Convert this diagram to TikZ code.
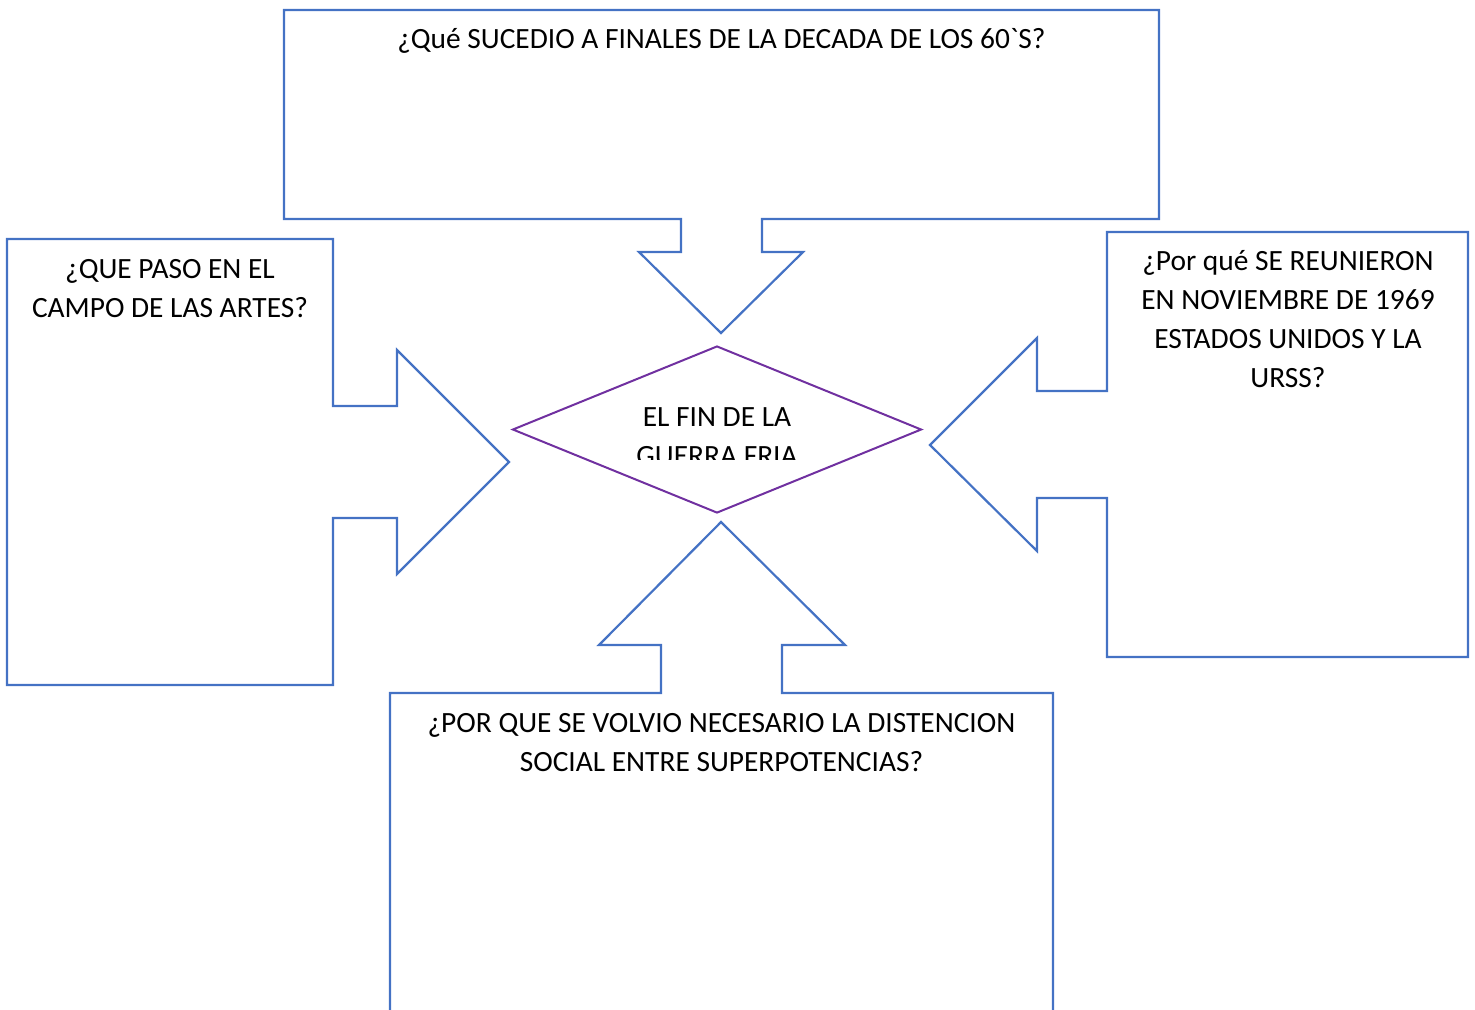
\documentclass[tikz,border=0pt]{standalone}
\usepackage{fontspec}
\setmainfont{Carlito}[Ligatures=TeXOff]
\usetikzlibrary{calc, shapes.geometric}
\definecolor{callblue}{HTML}{4472C4}
\definecolor{finpurple}{HTML}{7030A0}
\tikzset{
  callout/.style={draw=callblue, line width=1.1pt, line join=miter},
  question/.style={align=center, anchor=base, inner sep=0pt,
    font=\fontsize{14.7pt}{19.5pt}\selectfont},
}
\begin{document}
\begin{tikzpicture}[x=0.5pt, y=-0.5pt]
      \useasboundingbox (0,0) rectangle (1475,1009);

      \coordinate (c) at (717,429.5);      %centre of the diamond
      \coordinate (tt) at (721,333);       %tip top
      \coordinate (tl) at (509,462);       %tip left
      \coordinate (tr) at (930,445);       %tip right
      \coordinate (tb) at (721,522);       %tip bottom

      \node[diamond, draw=finpurple, line width=1pt, inner sep=0pt,
            minimum width=204.5pt, minimum height=83.5pt] (fin) at (c) {};

      % top : down arrow
      \draw[callout] (284,10) -- (1159,10) -- (1159,219) -- (762,219) -- (762,252) -- (803,252)
            -- (tt) -- (639,252) -- (681,252) -- (681,219) -- (284,219) -- cycle;
      % left : right arrow
      \draw[callout] (7,239) -- (333,239) -- (333,406) -- (397,406) -- (397,350)
            -- (tl) -- (397,574) -- (397,518) -- (333,518) -- (333,685) -- (7,685) -- cycle;
      % right : left arrow
      \draw[callout] (1107,232) -- (1468,232) -- (1468,657) -- (1107,657) -- (1107,498) -- (1037,498)
            -- (1037,551) -- (tr) -- (1037,338) -- (1037,391) -- (1107,391) -- cycle;
      % bottom : up arrow, runs off the page
      \draw[callout] (390,1015) -- (390,693) -- (661,693) -- (661,645) -- (599,645)
            -- (tb) -- (845,645) -- (782,645) -- (782,693) -- (1053,693) -- (1053,1015);

      % base = baseline of the last line
      \node[question] (qtop) at (721.5,48) {¿Qué SUCEDIO A FINALES DE LA DECADA DE LOS 60`S?};
      \node[question] (qleft) at (170,317) {¿QUE PASO EN EL\\CAMPO DE LAS ARTES?};
      \node[question] (qright) at (1288,387) {¿Por qué SE REUNIERON\\EN NOVIEMBRE DE 1969\\ESTADOS UNIDOS Y LA\\URSS?};
      \node[question] (qbottom) at (721.5,771.5) {¿POR QUE SE VOLVIO NECESARIO LA DISTENCION\\SOCIAL ENTRE SUPERPOTENCIAS?};

      \begin{scope}
        \clip (560,380) rectangle (880,459.5);
        \node[question] (fintxt) at ($ (c) + (0,36) $) {EL FIN DE LA\\GUERRA FRIA};
      \end{scope}
\end{tikzpicture}
\end{document}
